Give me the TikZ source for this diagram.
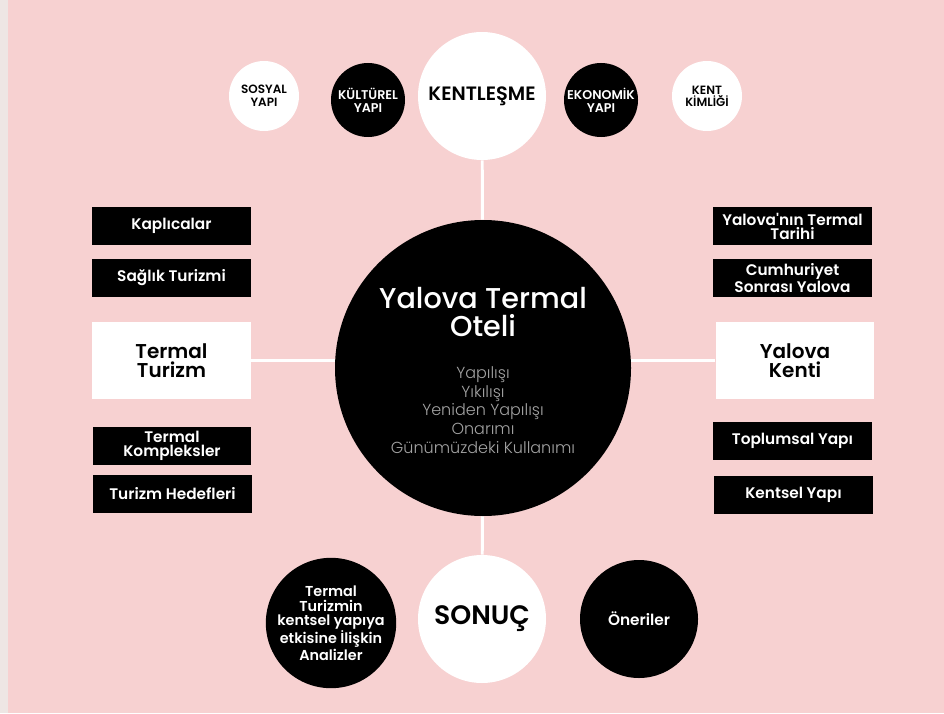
\documentclass[tikz,border=0pt]{standalone}
\usepackage{fontspec}
\setmainfont{Poppins}
\newfontfamily\semifont{Poppins SemiBold}
\newfontfamily\mediumfont{Poppins Medium}
\newfontfamily\lightfont{Poppins Light}
\usetikzlibrary{positioning}
\definecolor{blush}{HTML}{F7D1D1}
\definecolor{paper}{HTML}{EEE6E4}
\definecolor{mist}{HTML}{A3A3A3}
\tikzset{
  lightdot/.style={
    circle, fill=white, text=black, minimum size=#1,
    inner sep=0pt, align=center, font=\semifont
  },
  darkdot/.style={
    circle, fill=black, text=white, minimum size=#1,
    inner sep=0pt, align=center, font=\semifont
  },
  topicbox/.style={
    rectangle, fill=black, text=white,
    minimum width=119pt, minimum height=28.5pt, inner sep=0pt,
    font=\semifont\fontsize{11.5}{10.5}\selectfont, align=center
  },
  keybox/.style={
    rectangle, fill=white, text=black,
    minimum width=119pt, minimum height=58pt, inner sep=0pt,
    font=\semifont\fontsize{15}{14}\selectfont, align=center
  },
  spoke/.style={white, line width=2.2pt},
}

\begin{document}
\begin{tikzpicture}[x=0.75pt, y=-0.75pt]
  % Background
  \fill[paper] (0,0) rectangle (944,713);
  \fill[blush] (8,0) rectangle (944,713);
  \useasboundingbox (0,0) rectangle (944,713);

  % Top row
  \node[lightdot=52.5pt, font=\semifont\fontsize{9}{9.5}\selectfont] (sosyal) at (264,96) {SOSYAL\\YAPI};
  \node[darkdot=55.5pt, font=\semifont\fontsize{9.5}{10}\selectfont] (kultur) at (368,100) {KÜLTÜREL\\YAPI};
  \node[lightdot=96pt, font=\semifont\fontsize{14.5}{15}\selectfont] (kentlesme) at (482,96) {KENTLEŞME};
  \node[darkdot=55.5pt, font=\semifont\fontsize{9.5}{10}\selectfont] (ekonomi) at (601,100) {EKONOMİK\\YAPI};
  \node[lightdot=52.5pt, font=\semifont\fontsize{9}{9}\selectfont] (kimlik) at (707,96) {KENT\\KİMLİĞİ};

  % Hub
  \node[darkdot=222pt] (hub) at (483,368) {};
  \node[text=white, font=\mediumfont\fontsize{21.5}{21}\selectfont, align=center] (hubtitle) at (483,312)
    {Yalova Termal\\Oteli};
  \node[text=mist, font=\lightfont\fontsize{12}{14}\selectfont, align=center] (hublist) at (483,410)
    {Yapılışı\\Yıkılışı\\Yeniden Yapılışı\\Onarımı\\Günümüzdeki Kullanımı};

  % Left column
  \node[topicbox] (kaplica) at (171.5,226) {Kaplıcalar};
  \node[topicbox] (saglik) at (171.5,278) {Sağlık Turizmi};
  \node[keybox] (tturizm) at (171.5,360.5) {Termal\\Turizm};
  \node[topicbox] (kompleks) at (172,446) {Termal\\Kompleksler};
  \node[topicbox] (hedef) at (172.5,494) {Turizm Hedefleri};

  % Right column
  \node[topicbox] (tarih) at (792.5,226) {Yalova'nın Termal\\Tarihi};
  \node[topicbox] (cumhuriyet) at (792.5,278) {Cumhuriyet\\Sonrası Yalova};
  \node[keybox] (ykent) at (795,360.5) {Yalova\\Kenti};
  \node[topicbox] (toplum) at (792.5,440.5) {Toplumsal Yapı};
  \node[topicbox] (kentsel) at (793.5,495) {Kentsel Yapı};

  % Bottom row
  \node[darkdot=87pt, font=\semifont\fontsize{10.8}{11}\selectfont] (analiz) at (331,623)
    {Termal\\Turizmin\\kentsel yapıya\\etkisine İlişkin\\Analizler};
  \node[lightdot=96pt, font=\semifont\fontsize{20}{20}\selectfont] (sonuc) at (482,619) {SONUÇ};
  \node[darkdot=88.5pt, font=\semifont\fontsize{11.5}{12}\selectfont] (oneri) at (639,619) {Öneriler};

  % Spokes
  \draw[spoke] (kentlesme) -- (hub);
  \draw[spoke] (sonuc) -- (hub);
  \draw[spoke] (tturizm.east) -- (hub.west |- tturizm.east);
  \draw[spoke] (ykent.west) -- (hub.east |- ykent.west);
\end{tikzpicture}
\end{document}
